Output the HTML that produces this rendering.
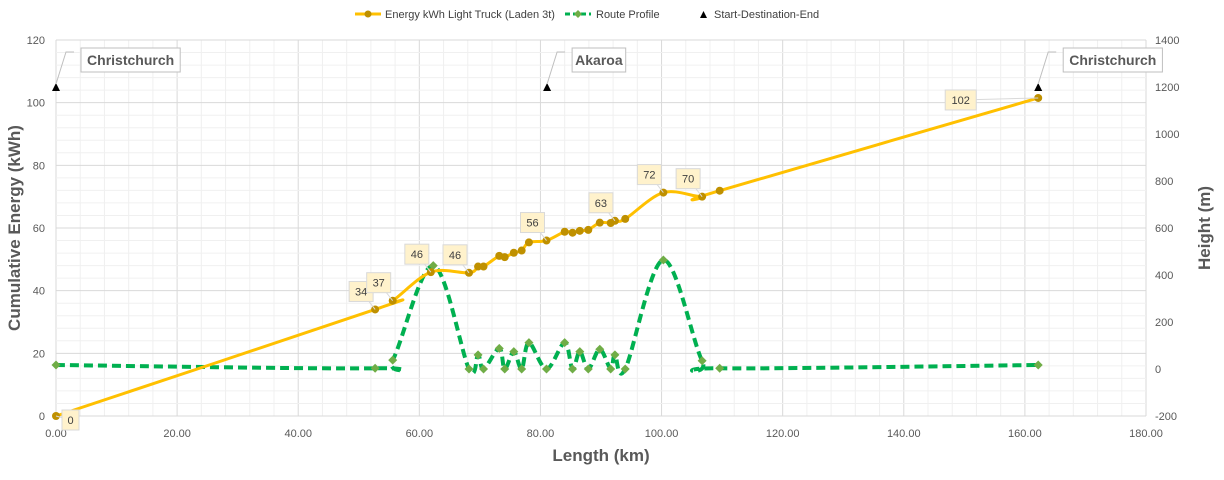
<!DOCTYPE html>
<html><head><meta charset="utf-8"><style>
body{margin:0;background:#fff;}
svg text{font-family:"Liberation Sans",sans-serif;}
</style></head><body>
<svg id="chart" width="1224" height="475" xmlns="http://www.w3.org/2000/svg">
<g id="grid"></g>
<g id="axes"></g>
<g id="series"></g>
<g id="labels"></g>
<g>
  <g>
    <line x1="355" y1="14" x2="381" y2="14" stroke="#ffc000" stroke-width="3"/>
    <circle cx="368" cy="14" r="3.5" fill="#bf9000"/>
    <text x="385" y="18" font-size="11" fill="#404040">Energy kWh Light Truck (Laden 3t)</text>
  </g>
  <g>
    <line x1="565" y1="14" x2="591" y2="14" stroke="#00b050" stroke-width="3" stroke-dasharray="5,3"/>
    <path d="M578 10 L582 14 L578 18 L574 14Z" fill="#70ad47"/>
    <text x="596" y="18" font-size="11" fill="#404040">Route Profile</text>
  </g>
  <g>
    <path d="M700 18 L703.5 11 L707 18Z" fill="#000"/>
    <text x="714" y="18" font-size="11" fill="#404040">Start-Destination-End</text>
  </g>
</g>
<text x="20" y="228" font-size="17" font-weight="bold" fill="#595959" text-anchor="middle" transform="rotate(-90 20 228)">Cumulative Energy (kWh)</text>
<text x="1210" y="228" font-size="17" font-weight="bold" fill="#595959" text-anchor="middle" transform="rotate(-90 1210 228)">Height (m)</text>
<text x="601" y="461" font-size="17" font-weight="bold" fill="#595959" text-anchor="middle">Length (km)</text>
</svg>
<script>
const energyX=[0,52.7,55.6,61.9,68.2,69.7,70.6,73.2,74.1,75.6,76.9,78.1,81.0,84.0,85.3,86.5,87.9,89.8,91.6,92.3,94.0,100.3,106.7,109.6,162.2];
const energyY=[0,34.0,36.8,45.9,45.7,47.7,47.7,51.1,50.7,52.1,52.8,55.4,56.0,58.8,58.5,59.1,59.4,61.7,61.6,62.3,62.9,71.3,70.0,71.9,101.5];
const energyLabelIdx=[0,1,2,3,4,12,19,21,22,24];
const energyLabelText=["0","34","37","46","46","56","63","72","70","102"];
const routeX=[0,52.7,55.6,62.3,68.2,69.7,70.6,73.2,74.1,75.6,76.9,78.1,81.0,84.0,85.3,86.5,87.9,89.8,91.6,92.3,94.0,100.3,106.7,109.6,162.2];
const routeY=[17,3,38,440,0,60,0,88,0,74,0,112,0,112,0,74,0,84,0,60,0,464,35,3,17];
const placeX=[0,81.1,162.2];
const placeH=[1200,1200,1200];
const placeNames=["Christchurch","Akaroa","Christchurch"];
const xTicks=[0,20,40,60,80,100,120,140,160,180];
const yLeftTicks=[0,20,40,60,80,100,120];
const yRightTicks=[-200,0,200,400,600,800,1000,1200,1400];

const X0=56,X1=1146,Y0=416,Y1=40;
const sx=v=>X0+(v-0)/(180)*(X1-X0);
const syL=v=>Y0-(v/120)*(Y0-Y1);
const syR=v=>Y0-((v+200)/1600)*(Y0-Y1);
const NS="http://www.w3.org/2000/svg";
function mk(tag,attrs,parent){const e=document.createElementNS(NS,tag);for(const k in attrs)e.setAttribute(k,attrs[k]);parent.appendChild(e);return e;}
const grid=document.getElementById('grid'),axes=document.getElementById('axes'),series=document.getElementById('series'),labels=document.getElementById('labels');

for(let v=0;v<=180;v+=4){const l=mk('line',{x1:sx(v),x2:sx(v),y1:Y1,y2:Y0,stroke:v%20===0?'#d9d9d9':'#f0f0f0','stroke-width':1},grid);

}
for(let v=0;v<=120;v+=4){const l=mk('line',{x1:X0,x2:X1,y1:syL(v),y2:syL(v),stroke:v%20===0?'#d9d9d9':'#f0f0f0','stroke-width':1},grid);

}
xTicks.forEach(v=>{const t=mk('text',{x:sx(v),y:437,'font-size':11,fill:'#595959','text-anchor':'middle'},axes);t.textContent=v.toFixed(2);

});
yLeftTicks.forEach(v=>{const t=mk('text',{x:45,y:syL(v)+4,'font-size':11,fill:'#595959','text-anchor':'end'},axes);t.textContent=v;

});
yRightTicks.forEach(v=>{const t=mk('text',{x:1155,y:syR(v)+4,'font-size':11,fill:'#595959','text-anchor':'start'},axes);t.textContent=v;

});

function smooth(pts){let d='M'+pts[0][0]+' '+pts[0][1];for(let i=0;i<pts.length-1;i++){const p0=pts[i-1]||pts[i],p1=pts[i],p2=pts[i+1],p3=pts[i+2]||p2;const t=1/6;
d+=' C'+(p1[0]+(p2[0]-p0[0])*t)+' '+(p1[1]+(p2[1]-p0[1])*t)+' '+(p2[0]-(p3[0]-p1[0])*t)+' '+(p2[1]-(p3[1]-p1[1])*t)+' '+p2[0]+' '+p2[1];}return d;}

const rp=routeX.map((x,i)=>[sx(x),syR(routeY[i])]);
const rl=mk('path',{d:smooth(rp),fill:'none',stroke:'#00b050','stroke-width':4,'stroke-dasharray':'9,5'},series);


rp.forEach(p=>{const m=mk('path',{d:`M${p[0]} ${p[1]-4.5}L${p[0]+4.5} ${p[1]}L${p[0]} ${p[1]+4.5}L${p[0]-4.5} ${p[1]}Z`,fill:'#70ad47'},series);

});

const ep=energyX.map((x,i)=>[sx(x),syL(energyY[i])]);
const el=mk('path',{d:smooth(ep),fill:'none',stroke:'#ffc000','stroke-width':3},series);


ep.forEach(p=>{const c=mk('circle',{cx:p[0],cy:p[1],r:4,fill:'#bf9000'},series);

});

energyLabelIdx.forEach((idx,k)=>{const p=ep[idx];const txt=energyLabelText[k];const w=txt.length*7+10;
let bx=p[0]-w-2,by=p[1]-28;if(idx===0){bx=p[0]+6;by=p[1]-6;}if(idx===energyX.length-1){bx=p[0]-w-62;by=p[1]-8;}
const g=mk('g',{},labels);


mk('line',{x1:p[0],y1:p[1],x2:bx+w/2,y2:by+10,stroke:'#d9d9d9','stroke-width':1},g);
mk('rect',{x:bx,y:by,width:w,height:20,fill:'#fff2cc',stroke:'#d9d9d9'},g);
const t=mk('text',{x:bx+w/2,y:by+14,'font-size':11,fill:'#404040','text-anchor':'middle'},g);t.textContent=txt;});

placeX.forEach((x,i)=>{const px=sx(x),py=syR(placeH[i]);
const tri=mk('path',{d:`M${px-4} ${py+4}L${px} ${py-4}L${px+4} ${py+4}Z`,fill:'#000'},series);


const g=mk('g',{},labels);


const w=placeNames[i].length*7.6+8;
mk('path',{d:`M${px} ${py-3}L${px+10} ${py-35}L${px+18} ${py-35}`,fill:'none',stroke:'#bfbfbf'},g);
mk('rect',{x:px+25,y:py-39,width:w,height:24,fill:'#fff',stroke:'#bfbfbf'},g);
const t=mk('text',{x:px+25+w/2,y:py-22,'font-size':14,'font-weight':'bold',fill:'#595959','text-anchor':'middle'},g);t.textContent=placeNames[i];});
</script>
</body></html>
